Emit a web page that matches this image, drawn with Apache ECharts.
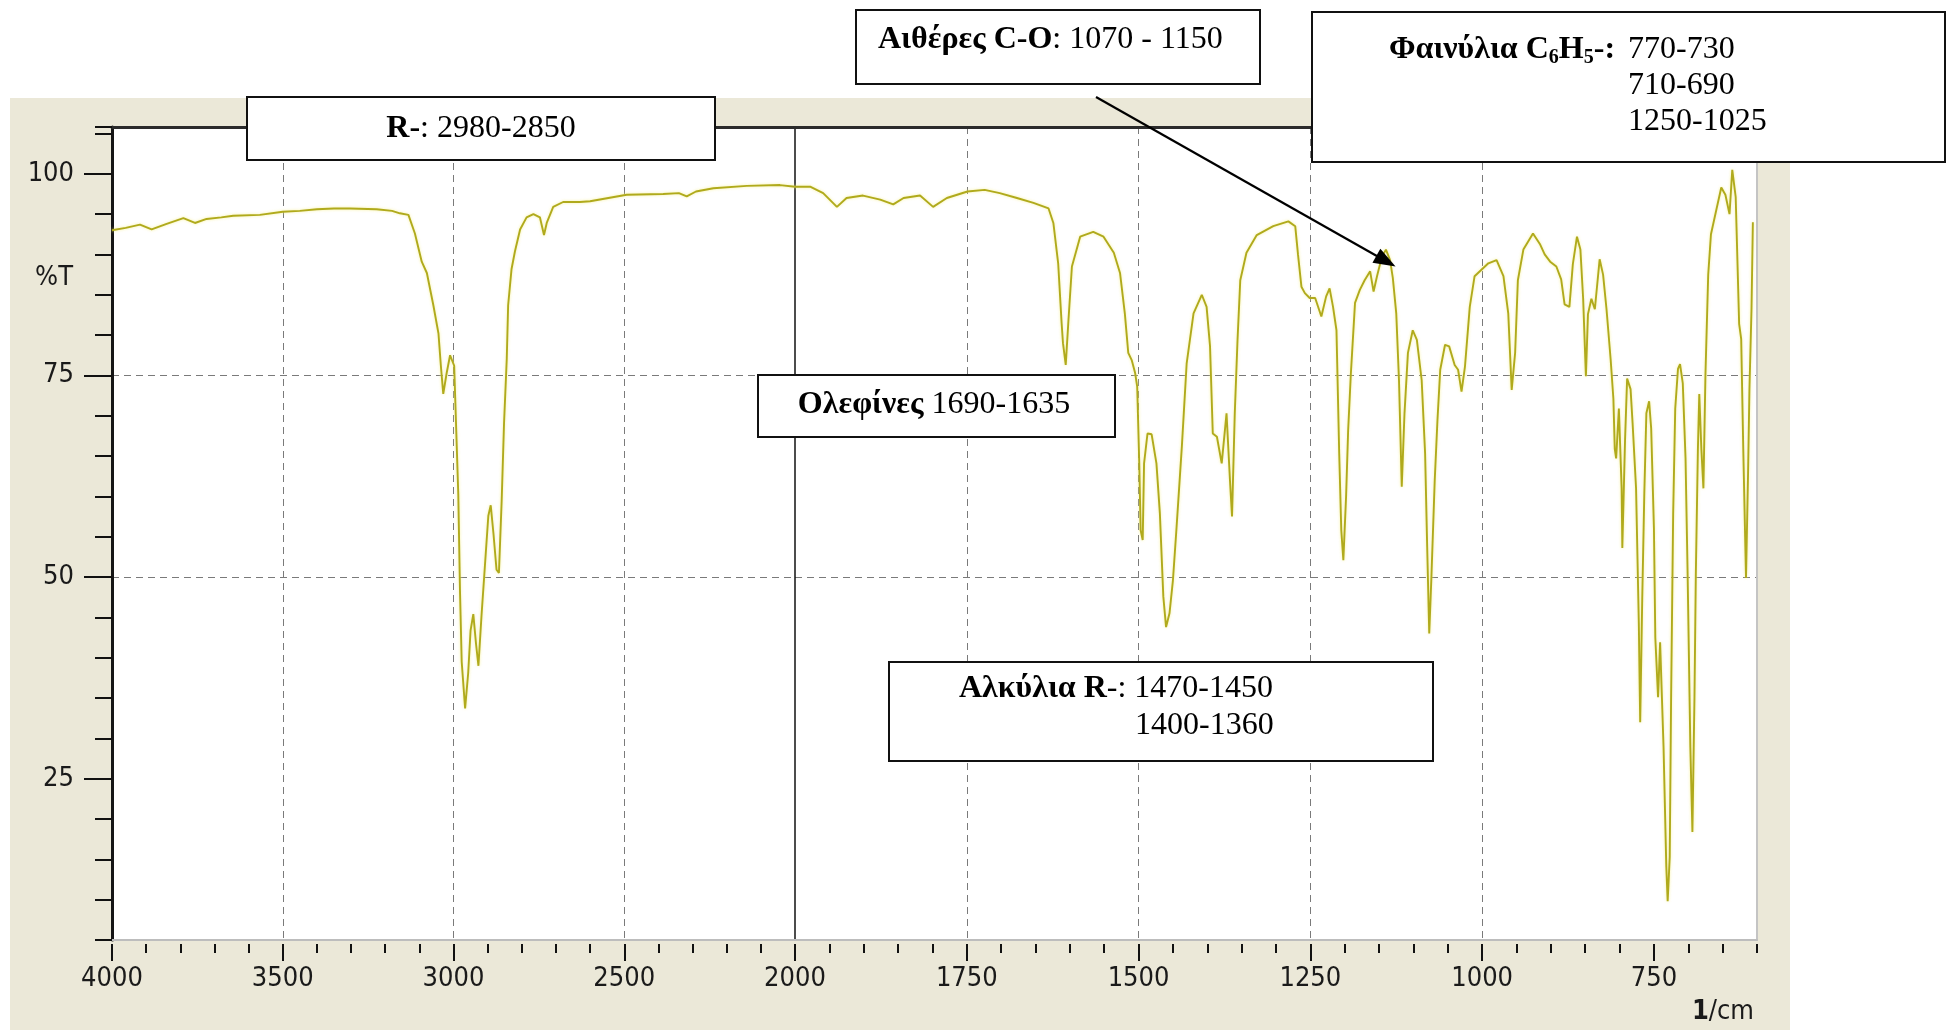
<!DOCTYPE html>
<html>
<head>
<meta charset="utf-8">
<script src="https://cdn.jsdelivr.net/npm/echarts@6/dist/echarts.min.js"></script>
<style>
  html, body { margin: 0; padding: 0; background: #ffffff; }
  #chart { width: 1950px; height: 1031px; }
</style>
</head>
<body>
<div id="chart"></div>
<script>
// IR spectrum: wavenumber (1/cm) against transmittance (%T)
const wavenumbers = [
  4000, 3960, 3918, 3884, 3840, 3791, 3757, 3723, 3680, 3645, 3567, 3500, 3450, 3400, 3350, 3303,
  3225, 3180, 3157, 3132, 3113, 3093, 3078, 3059, 3044, 3037, 3030, 3020, 3010, 3005, 2998, 2995,
  2986, 2981, 2976, 2966, 2957, 2950, 2942, 2934, 2927, 2918, 2908, 2898, 2891, 2883, 2874, 2867,
  2859, 2852, 2844, 2840, 2830, 2820, 2805, 2786, 2766, 2747, 2735, 2727, 2708, 2679, 2630, 2600,
  2493, 2386, 2340, 2317, 2290, 2239, 2141, 2044, 2000,
  1978, 1959, 1939, 1925, 1901, 1876, 1857, 1842, 1818, 1799, 1779, 1749, 1724, 1702, 1677, 1653,
  1631, 1624, 1617, 1612, 1610, 1606, 1602, 1597, 1585, 1566, 1551, 1536, 1527, 1520, 1515, 1510,
  1505, 1502, 1499, 1497, 1494, 1492, 1487, 1481, 1474, 1469, 1464, 1460, 1455, 1450, 1445, 1437,
  1430, 1420, 1408, 1401, 1396, 1392, 1386, 1379, 1372, 1367, 1364, 1360, 1356, 1352, 1343, 1328,
  1304, 1282, 1272, 1268, 1263, 1258, 1251, 1243, 1234, 1227, 1222, 1217, 1212, 1208, 1205, 1202,
  1198, 1195, 1191, 1185, 1178, 1171, 1163, 1158, 1153, 1146, 1140, 1134, 1130, 1125, 1121, 1117,
  1113, 1108, 1101, 1095, 1088, 1083, 1080, 1077, 1074, 1069, 1065, 1061, 1054, 1048, 1040, 1035,
  1030, 1025, 1018, 1011, 1001, 991, 979, 969, 962, 957, 952, 948, 940, 926, 916, 909,
  901, 892, 885, 880, 873, 868, 862, 857, 853, 849, 846, 841, 836, 829, 824, 819,
  813, 809, 807, 805, 801, 797, 796, 792, 789, 784, 781, 776, 772, 770, 767, 764,
  761, 757, 754, 750, 748, 744, 741, 736, 732, 730, 727, 725, 722, 719, 715, 712,
  708, 704, 701, 697, 694, 691, 689, 686, 684, 681, 678, 675, 671, 667, 659, 652,
  646, 640, 636, 631, 626, 623, 620, 616, 613, 611, 608, 606
];
const transmittance = [
  93.0, 93.3, 93.7, 93.1, 93.8, 94.5, 93.9, 94.4, 94.6, 94.8, 94.9, 95.3, 95.4, 95.6, 95.7, 95.7,
  95.6, 95.4, 95.1, 94.9, 92.6, 89.1, 87.7, 83.7, 80.2, 76.2, 72.7, 75.3, 77.5, 77.6, 76.2, 72.2,
  60.3, 48.3, 39.5, 33.7, 38.1, 43.4, 45.4, 41.7, 39.0, 45.2, 51.4, 57.6, 58.9, 55.4, 50.9, 50.5,
  59.4, 69.1, 77.1, 83.7, 88.2, 90.4, 93.1, 94.6, 95.0, 94.6, 92.4, 93.9, 95.9, 96.5, 96.5, 96.6,
  97.4, 97.5, 97.6, 97.2, 97.8, 98.2, 98.5, 98.6, 98.4,
  98.4, 97.6, 95.9, 97.0, 97.3, 96.8, 96.2, 97.0, 97.3, 95.9, 97.0, 97.8, 98.0, 97.6, 97.0, 96.4,
  95.7, 93.9, 88.9, 81.5, 79.0, 76.3, 81.9, 88.5, 92.2, 92.8, 92.2, 90.2, 87.7, 82.7, 77.8, 76.9,
  75.3, 73.6, 64.1, 55.8, 54.6, 64.1, 67.8, 67.7, 64.1, 57.9, 47.6, 43.8, 45.5, 49.6, 55.8, 66.2,
  76.5, 82.7, 85.0, 83.5, 78.6, 67.8, 67.4, 64.1, 70.3, 62.0, 57.5, 70.3, 79.4, 86.8, 90.2, 92.4,
  93.5, 94.1, 93.5, 90.0, 86.0, 85.2, 84.6, 84.6, 82.3, 84.8, 85.8, 83.5, 80.6, 65.3, 55.8, 52.1,
  60.0, 68.2, 75.3, 84.0, 85.6, 86.8, 87.9, 85.4, 87.3, 89.7, 90.6, 89.3, 87.1, 82.7, 74.4, 61.2,
  70.3, 77.8, 80.6, 79.4, 74.4, 65.3, 53.8, 43.0, 49.6, 62.0, 69.5, 75.7, 78.8, 78.6, 76.3, 75.7,
  73.0, 76.1, 83.5, 87.3, 88.1, 88.9, 89.3, 87.3, 82.7, 73.2, 77.8, 86.8, 90.6, 92.6, 91.3, 90.0,
  89.1, 88.5, 86.9, 83.8, 83.5, 88.8, 92.2, 90.6, 84.5, 74.9, 82.6, 84.5, 83.2, 89.4, 87.5, 83.2,
  77.0, 72.1, 65.9, 64.7, 70.9, 61.0, 53.6, 67.1, 74.6, 73.3, 69.0, 61.0, 44.3, 32.0, 47.4, 60.4,
  70.3, 71.8, 68.4, 56.1, 42.5, 35.1, 41.9, 28.9, 14.1, 9.8, 15.3, 35.1, 57.9, 70.9, 75.8, 76.4,
  74.0, 64.7, 50.5, 28.9, 18.4, 35.1, 50.5, 65.9, 72.7, 65.9, 61.0, 75.2, 87.5, 92.5, 95.6, 98.3,
  97.4, 95.0, 100.5, 97.1, 81.4, 79.5, 65.9, 49.9, 62.9, 73.3, 83.2, 94.0
];

// Tick labels
const yTickLabels = [25, 50, 75, 100];
const xTicksHigh = [2000, 2500, 3000, 3500, 4000];
const xLabelsHigh = [2500, 3000, 3500, 4000];
const xTicksLow = [750, 1000, 1250, 1500, 1750, 2000];

// The x axis is drawn in two panels with different scales: 4000-2000 and 2000-600
const highPart = [];
const lowPart = [];
wavenumbers.forEach((w, i) => {
  if (w >= 2000) highPart.push([w, transmittance[i]]);
  if (w <= 2000) lowPart.push([w, transmittance[i]]);
});

const AXIS_FONT = '"DejaVu Sans Condensed", "DejaVu Sans", sans-serif';
const SERIF = '"Liberation Serif", "Times New Roman", serif';
const LINE_COLOR = '#b0aa1c';
const GRID_DASH = { color: '#7a7a7a', width: 1, type: [7, 5] };
const LABEL_SIZE = 27;

const Y_MIN = 5, Y_MAX = 105.8;
const TOP = 127, HEIGHT = 813;

function xAxesFor(gridIndex, min, max, majorTicks, labels, minorStep) {
  return [
    { // light bottom edge
      gridIndex, type: 'value', min, max, inverse: true, position: 'bottom',
      axisLine: { show: true, onZero: false, lineStyle: { color: '#bdbdbd', width: 2 } },
      axisTick: { show: false }, axisLabel: { show: false }, splitLine: { show: false }
    },
    { // major ticks, labels and vertical grid lines
      gridIndex, type: 'value', min, max, inverse: true, position: 'bottom', offset: 4,
      axisLine: { show: false, onZero: false },
      axisTick: { show: true, customValues: majorTicks, length: 17, lineStyle: { color: '#111', width: 2 } },
      axisLabel: {
        show: true, customValues: labels, margin: 21,
        fontFamily: AXIS_FONT, fontSize: LABEL_SIZE, color: '#1a1a1a',
        formatter: v => String(v)
      },
      splitLine: { show: true, showMinLine: false, showMaxLine: false, lineStyle: GRID_DASH }
    },
    { // minor ticks
      gridIndex, type: 'value', min, max, inverse: true, position: 'bottom', offset: 4,
      interval: minorStep,
      axisLine: { show: false, onZero: false },
      axisTick: { show: true, length: 9, lineStyle: { color: '#111', width: 2 } },
      axisLabel: { show: false }, splitLine: { show: false }
    },
    { // dark top edge
      gridIndex, type: 'value', min, max, inverse: true, position: 'top',
      axisLine: { show: true, onZero: false, lineStyle: { color: '#2b2b2b', width: 3 } },
      axisTick: { show: false }, axisLabel: { show: false }, splitLine: { show: false }
    }
  ];
}

const chart = echarts.init(document.getElementById('chart'), null, { renderer: 'canvas' });

const option = {
  animation: false,
  backgroundColor: '#ffffff',
  grid: [
    { left: 112, top: TOP, width: 683, height: HEIGHT, show: true, backgroundColor: '#ffffff', borderWidth: 0 },
    { left: 795, top: TOP, width: 962, height: HEIGHT, show: true, backgroundColor: '#ffffff', borderWidth: 0 }
  ],
  xAxis: [
    ...xAxesFor(0, 2000, 4000, xTicksHigh, xLabelsHigh, 100),
    ...xAxesFor(1, 600, 2000, xTicksLow, xTicksLow, 50)
  ],
  yAxis: [
    { // left axis: major ticks, labels, horizontal grid lines
      gridIndex: 0, type: 'value', min: Y_MIN, max: Y_MAX, position: 'left',
      axisLine: { show: true, onZero: false, lineStyle: { color: '#151515', width: 3 } },
      axisTick: { show: true, customValues: yTickLabels, length: 28, lineStyle: { color: '#111', width: 2 } },
      axisLabel: {
        show: true, customValues: yTickLabels, margin: 38,
        fontFamily: AXIS_FONT, fontSize: LABEL_SIZE, color: '#1a1a1a'
      },
      splitLine: { show: true, showMinLine: false, showMaxLine: false, lineStyle: GRID_DASH }
    },
    { // left axis: minor ticks every 5 %T
      gridIndex: 0, type: 'value', min: Y_MIN, max: Y_MAX, position: 'left', interval: 5,
      axisLine: { show: false, onZero: false },
      axisTick: { show: true, length: 17, lineStyle: { color: '#111', width: 2 } },
      axisLabel: { show: false }, splitLine: { show: false }
    },
    { // divider at 2000 1/cm and grid lines of the right panel
      gridIndex: 1, type: 'value', min: Y_MIN, max: Y_MAX, position: 'left',
      axisLine: { show: true, onZero: false, lineStyle: { color: '#111', width: 1.5 } },
      axisTick: { show: false, customValues: yTickLabels },
      axisLabel: { show: false },
      splitLine: { show: true, showMinLine: false, showMaxLine: false, lineStyle: GRID_DASH }
    },
    { // light right edge
      gridIndex: 1, type: 'value', min: Y_MIN, max: Y_MAX, position: 'right',
      axisLine: { show: true, onZero: false, lineStyle: { color: '#c4c4c4', width: 2 } },
      axisTick: { show: false }, axisLabel: { show: false }, splitLine: { show: false }
    }
  ],
  series: [
    {
      type: 'line', xAxisIndex: 0, yAxisIndex: 0, data: highPart,
      symbol: 'none', clip: true, z: 5,
      lineStyle: { color: LINE_COLOR, width: 1.9, shadowColor: 'rgba(245,238,130,0.8)', shadowBlur: 3 }
    },
    {
      type: 'line', xAxisIndex: 4, yAxisIndex: 2, data: lowPart,
      symbol: 'none', clip: true, z: 5,
      lineStyle: { color: LINE_COLOR, width: 1.9, shadowColor: 'rgba(245,238,130,0.8)', shadowBlur: 3 }
    }
  ]
};

chart.setOption(option);

// Annotation boxes, axis captions and the arrow
function box(x, y, w, h) {
  return {
    type: 'rect', z: 100, shape: { x, y, width: w, height: h },
    style: { fill: '#ffffff', stroke: '#111111', lineWidth: 2 }
  };
}
const richSerif = {
  b: { fontFamily: SERIF, fontSize: 32, fontWeight: 'bold', lineHeight: 36, fill: '#000' },
  r: { fontFamily: SERIF, fontSize: 32, fontWeight: 'normal', lineHeight: 36, fill: '#000' },
  s: { fontFamily: SERIF, fontSize: 20, fontWeight: 'bold', lineHeight: 20, verticalAlign: 'bottom', fill: '#000' }
};
function label(x, y, text, align) {
  return {
    type: 'text', z: 101, x, y,
    style: {
      text, rich: richSerif, fontFamily: SERIF, fontSize: 32, fill: '#000',
      align: align || 'left', verticalAlign: 'middle'
    }
  };
}

const tip = chart.convertToPixel({ xAxisIndex: 4, yAxisIndex: 2 }, [1126, 88.5]);
const start = [1096, 97];
const dx = tip[0] - start[0], dy = tip[1] - start[1];
const len = Math.sqrt(dx * dx + dy * dy);
const ux = dx / len, uy = dy / len;
const headLen = 22, headHalf = 8;
const base = [tip[0] - ux * headLen, tip[1] - uy * headLen];

const graphics = [
  { // window panel behind the plot
    type: 'rect', z: -10, silent: true,
    shape: { x: 10, y: 98, width: 1780, height: 932 },
    style: { fill: '#ebe8d8' }
  },
  {
    type: 'text', z: 50, x: 73, y: 278,
    style: { text: '%T', fontFamily: AXIS_FONT, fontSize: LABEL_SIZE, fill: '#1a1a1a', align: 'right', verticalAlign: 'middle' }
  },
  {
    type: 'text', z: 50, x: 1754, y: 1012,
    style: {
      text: '{b|1}/cm', fontFamily: AXIS_FONT, fontSize: LABEL_SIZE, fill: '#1a1a1a', align: 'right', verticalAlign: 'middle',
      rich: { b: { fontFamily: AXIS_FONT, fontSize: LABEL_SIZE, fontWeight: 'bold', fill: '#1a1a1a' } }
    }
  },
  // R- stretch
  box(247, 97, 468, 63),
  label(481, 129, '{b|R-}{r|: 2980-2850}', 'center'),
  // Olefins
  box(758, 375, 357, 62),
  label(934, 405, '{b|Ολεφίνες}{r| 1690-1635}', 'center'),
  // Ethers
  box(856, 10, 404, 74),
  label(878, 40, '{b|Αιθέρες C-O}{r|: 1070 - 1150}', 'left'),
  // Phenyl
  box(1312, 12, 633, 150),
  label(1389, 50, '{b|Φαινύλια C}{s|6}{b|H}{s|5}{b|-:}', 'left'),
  label(1628, 50, '{r|770-730}', 'left'),
  label(1628, 86, '{r|710-690}', 'left'),
  label(1628, 122, '{r|1250-1025}', 'left'),
  // Alkyl
  box(889, 662, 544, 99),
  label(959, 689, '{b|Αλκύλια R}{r|-: 1470-1450}', 'left'),
  label(1135, 726, '{r|1400-1360}', 'left'),
  // Arrow from the ether box to the band near 1130 1/cm
  {
    type: 'line', z: 102,
    shape: { x1: start[0], y1: start[1], x2: base[0] + ux * 2, y2: base[1] + uy * 2 },
    style: { stroke: '#000', lineWidth: 2.2 }
  },
  {
    type: 'polygon', z: 102,
    shape: { points: [tip, [base[0] - uy * headHalf, base[1] + ux * headHalf], [base[0] + uy * headHalf, base[1] - ux * headHalf]] },
    style: { fill: '#000' }
  }
];

chart.setOption({ graphic: graphics });
</script>
</body>
</html>
